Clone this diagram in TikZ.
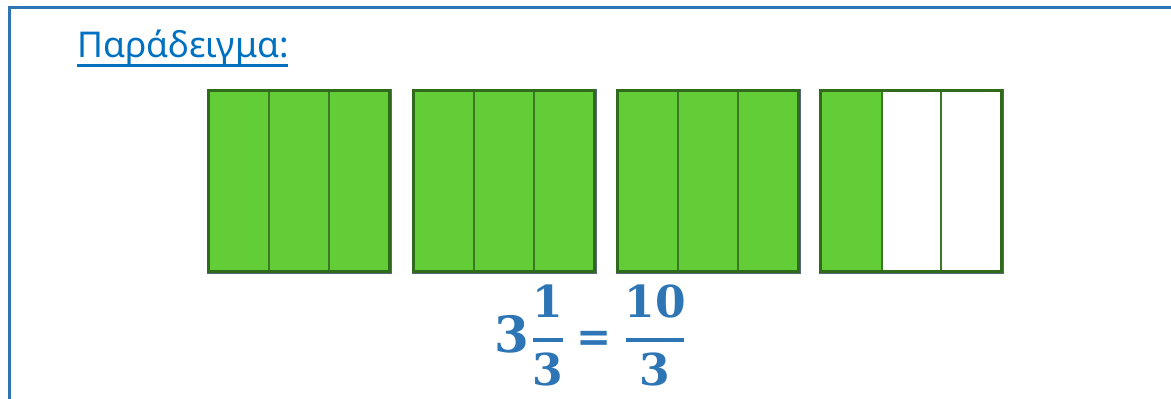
\documentclass[tikz,border=0pt]{standalone}
\usepackage{fontspec}
\newfontfamily\titlefont{Noto Sans}
\newfontfamily\eqfont{DejaVu Serif}
\definecolor{frameblue}{HTML}{2E75B6}
\definecolor{titleblue}{HTML}{0070C0}
\definecolor{fillgreen}{HTML}{62CD36}
\definecolor{edgegreen}{HTML}{2F6B1A}
\definecolor{divgreen}{HTML}{3A7A24}
\definecolor{shadowgray}{HTML}{56687A}
\tikzset{
  unitbox/.style={draw=edgegreen, line width=3.5pt},
  divider/.style={draw=divgreen, line width=1.8pt},
  mathtxt/.style={text=frameblue, inner sep=0pt, font=\eqfont\bfseries\fontsize{44}{44}\selectfont},
  fracbar/.style={draw=frameblue, line width=4pt},
}
\begin{document}
\begin{tikzpicture}[x=1pt,y=-1pt]
\useasboundingbox (0,0) rectangle (1171,399);
% frame
\draw[frameblue, line width=3pt] (9,420) -- (9,7) -- (1190,7);
% title
\node[anchor=base west, inner sep=0pt, text=titleblue, font=\titlefont\fontsize{35.5}{35.5}\selectfont] (title) at (77,57) {Παράδειγμα:};
\draw[titleblue, line width=3pt] (title.base west) ++(0,8) -- ++(211,0);
% boxes
\foreach \x/\n in {207/1,412/2,616/3,819/4}{
  \fill[shadowgray] (\x-0.5,88.5) rectangle (\x+184.5,273.5);
}
\foreach \x in {207,412,616}{
  \fill[fillgreen] (\x,89) rectangle (\x+184,273);
  \draw[divider] (\x+62,89) -- (\x+62,273);
  \draw[divider] (\x+122,89) -- (\x+122,273);
  \draw[unitbox] (\x+1.5,90.5) rectangle (\x+182.5,271.5);
}
\fill[white] (819,89) rectangle (1003,273);
\fill[fillgreen] (819,89) rectangle (882,273);
\draw[divider] (882,89) -- (882,273);
\draw[divider] (941,89) -- (941,273);
\draw[unitbox] (820.5,90.5) rectangle (1001.5,271.5);
% equation
\node[mathtxt, font=\eqfont\bfseries\fontsize{50}{50}\selectfont] (whole) at (511.5,334) {3};
\node[mathtxt] (n1) at (548,301) {1};
\draw[fracbar] (533,340) -- (563,340);
\node[mathtxt] (d1) at (548,369) {3};
\node[mathtxt, font=\eqfont\bfseries\fontsize{42}{42}\selectfont] (eq) at (594.5,341) {=};
\node[mathtxt] (n2) at (655,301) {10};
\draw[fracbar] (626,340) -- (684,340);
\node[mathtxt] (d2) at (655,369) {3};
\end{tikzpicture}
\end{document}
